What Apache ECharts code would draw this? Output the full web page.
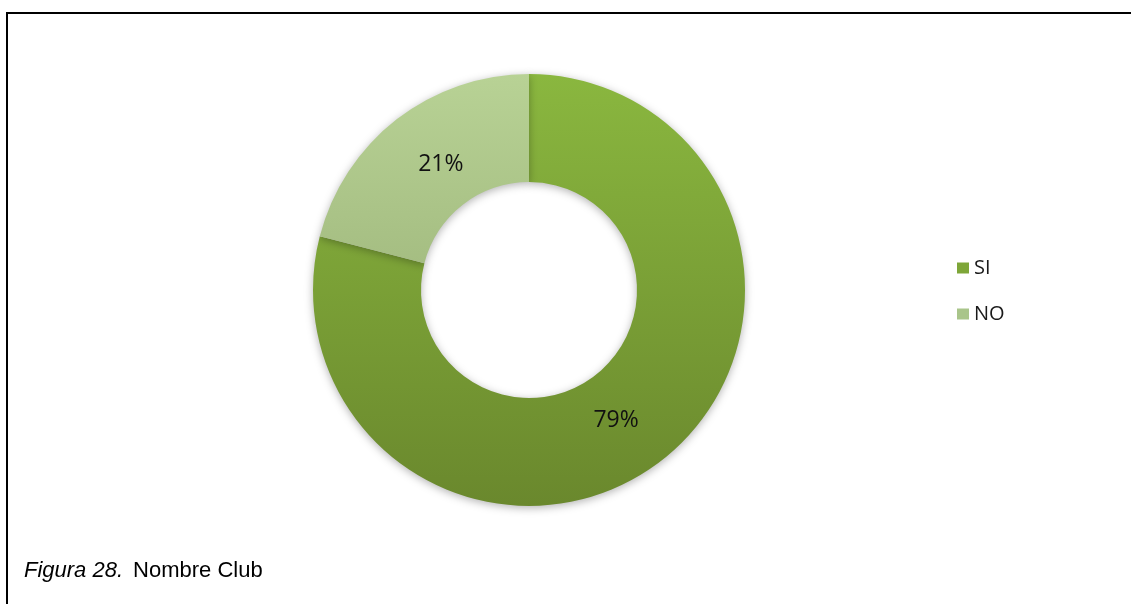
<!DOCTYPE html>
<html>
<head>
<meta charset="utf-8">
<script src="https://cdn.jsdelivr.net/npm/echarts@6/dist/echarts.min.js"></script>
<style>
html,body{margin:0;padding:0;background:#fff;}
#c{width:1131px;height:604px;}
</style>
</head>
<body>
<div id="c"></div>
<script>
const categories = ['SI', 'NO'];
const values = [79, 21];
const legendColors = ['#7ea638', '#a9c58a'];
const gradTop = ['#8ab73f', '#b8d295'];
const gradBottom = ['#6a882d', '#8da46a'];
const caption = ['Figura 28.', 'Nombre Club'];

const chart = echarts.init(document.getElementById('c'));
const cy = 290, R = 216, r = 108;
const labelNudge = [{dx: -14, dy: 0}, {dx: 13, dy: 5}];
const data = categories.map((name, i) => ({
  name: name,
  value: values[i],
  itemStyle: {
    color: new echarts.graphic.LinearGradient(0, cy - R, 0, cy + R, [
      {offset: 0, color: gradTop[i]},
      {offset: 1, color: gradBottom[i]}
    ], true)
  }
}));

chart.setOption({
  animation: false,
  backgroundColor: '#ffffff',
  title: {
    left: 19, top: 555,
    text: '{i|' + caption[0] + '}  {n|' + caption[1] + '}',
    textStyle: {
      fontWeight: 'normal',
      rich: {
        i: {fontFamily: 'Liberation Sans, Arial', fontSize: 22, fontStyle: 'italic', fontWeight: 'normal', color: '#000'},
        n: {fontFamily: 'Liberation Sans, Arial', fontSize: 22, fontWeight: 'normal', color: '#000'}
      }
    }
  },
  legend: {
    orient: 'vertical',
    left: 952, top: 253,
    itemWidth: 12, itemHeight: 11,
    itemGap: 26,
    icon: 'rect',
    data: categories.map((c, i) => ({name: c, itemStyle: {color: legendColors[i]}})),
    textStyle: {fontFamily: 'Open Sans', fontSize: 20, lineHeight: 20, color: '#1a1a1a'}
  },
  graphic: [
    {type: 'line', shape: {x1: 6, y1: 13, x2: 1131, y2: 13}, style: {stroke: '#000', lineWidth: 2}},
    {type: 'line', shape: {x1: 7, y1: 12, x2: 7, y2: 604}, style: {stroke: '#000', lineWidth: 2}}
  ],
  series: [{
    type: 'pie',
    center: [529, cy],
    radius: [r, R],
    startAngle: 90,
    clockwise: true,
    avoidLabelOverlap: false,
    emphasis: {disabled: true},
    itemStyle: {shadowBlur: 8, shadowColor: 'rgba(0,0,0,0.3)', shadowOffsetY: 2},
    label: {
      position: 'inside',
      formatter: p => Math.round(p.percent) + '%',
      fontFamily: 'Open Sans',
      fontSize: 23,
      color: '#111'
    },
    labelLayout: p => labelNudge[p.dataIndex],
    labelLine: {show: false},
    data: data
  }]
});
</script>
</body>
</html>
